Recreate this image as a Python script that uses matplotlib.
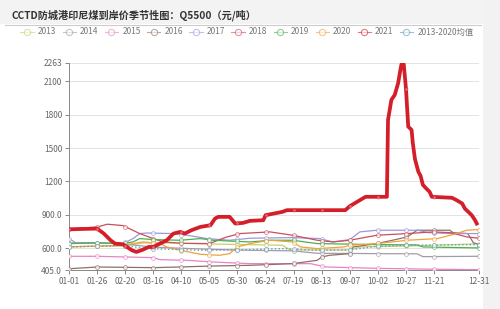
import numpy as np
import matplotlib
matplotlib.use("Agg")
import matplotlib.pyplot as plt
from matplotlib.lines import Line2D
from matplotlib.patches import Rectangle

plt.rcParams['font.family'] = ['Noto Sans CJK SC', 'DejaVu Sans']

# x axis is day-of-year index (leap-year calendar, 0 = 01-01, 365 = 12-31)
tick_days = [0, 25, 50, 75, 100, 125, 150, 175, 200, 225, 250, 275, 300, 325, 365]
tick_labels = ["01-01", "01-26", "02-20", "03-16", "04-10", "05-05", "05-30", "06-24",
               "07-19", "08-13", "09-07", "10-02", "10-27", "11-21", "12-31"]
y_ticks = [405, 600, 900, 1200, 1500, 1800, 2100, 2263]
y_labels = ["405.0", "600.0", "900.0", "1200", "1500", "1800", "2100", "2263"]

# series: (day, price)
d2013 = [0, 25, 48, 66, 87, 117, 161, 190, 197, 250, 259, 300, 365]
v2013 = [615, 618, 620, 648, 648, 640, 632, 627, 585, 585, 612, 620, 640]

d2014 = [0, 25, 48, 75, 100, 128, 161, 199, 221, 310, 315, 365]
v2014 = [648, 650, 640, 610, 600, 590, 582, 577, 555, 550, 525, 528]

d2015 = [0, 25, 75, 81, 105, 128, 161, 215, 229, 274, 324, 365]
v2015 = [528, 528, 516, 498, 492, 477, 462, 462, 432, 420, 412, 408]

d2016 = [0, 3, 25, 75, 98, 128, 161, 199, 221, 225, 232, 250, 253, 274, 288, 301, 310, 339, 342, 355, 360, 365]
v2016 = [410, 418, 432, 426, 432, 441, 447, 462, 492, 522, 537, 552, 612, 642, 672, 702, 762, 762, 740, 732, 650, 633]

d2017 = [0, 6, 48, 57, 63, 69, 93, 105, 123, 143, 161, 199, 223, 235, 250, 259, 274, 310, 320, 340, 365]
v2017 = [687, 650, 642, 687, 732, 737, 732, 717, 687, 672, 690, 696, 687, 657, 678, 747, 762, 762, 740, 732, 732]

d2018 = [0, 25, 34, 48, 63, 75, 84, 100, 125, 140, 152, 179, 199, 221, 235, 250, 274, 301, 324, 340, 354, 365]
v2018 = [775, 790, 816, 804, 732, 687, 657, 645, 642, 700, 732, 747, 717, 672, 657, 672, 717, 732, 747, 740, 702, 690]

d2019 = [0, 25, 48, 57, 63, 75, 99, 117, 128, 143, 161, 180, 199, 221, 274, 310, 315, 365]
v2019 = [642, 648, 642, 657, 687, 678, 672, 687, 672, 665, 657, 672, 672, 642, 633, 630, 612, 603]

d2020 = [0, 48, 66, 81, 87, 99, 117, 134, 143, 150, 161, 179, 199, 206, 221, 245, 250, 274, 301, 328, 345, 354, 365]
v2020 = [612, 627, 657, 642, 612, 582, 546, 537, 552, 612, 642, 672, 657, 612, 597, 612, 627, 642, 672, 687, 732, 762, 768]

d2021 = [0, 25, 31, 37, 41, 48, 56, 60, 66, 71, 75, 81, 87, 93, 99, 103, 109, 117, 126, 130, 133,
         143, 148, 155, 161, 173, 175, 190, 194, 246, 250, 259, 264, 283, 284, 287, 290, 293, 295,
         296, 298, 300, 302, 305, 306, 308, 311, 313, 315, 318, 321, 323, 341, 345, 350, 352.5,
         355.5, 358.5, 361.5, 363]
v2021 = [770, 777, 732, 672, 642, 636, 582, 567, 588, 612, 612, 642, 672, 732, 747, 732, 762, 792, 807, 867, 882,
         882, 822, 828, 846, 852, 897, 927, 942, 942, 978, 1032, 1062, 1062, 1752, 1932, 1977, 2082, 2200,
         2253, 2253, 2030, 1692, 1662, 1550, 1400, 1287, 1250, 1170, 1137, 1107, 1062, 1053, 1032, 1002, 955,
         927, 897, 852, 822]

d_avg = [0, 48, 70, 117, 161, 190, 221, 250, 274, 300, 365]
v_avg = [612, 625, 597, 582, 588, 597, 582, 585, 618, 627, 633]

series = [
    ("2013", d2013, v2013, "#c9cf6e", 0.9, "-"),
    ("2014", d2014, v2014, "#a39ca6", 0.9, "-"),
    ("2015", d2015, v2015, "#e883c6", 0.9, "-"),
    ("2016", d2016, v2016, "#8f7068", 0.9, "-"),
    ("2017", d2017, v2017, "#9f97dc", 0.9, "-"),
    ("2018", d2018, v2018, "#c9505a", 0.9, "-"),
    ("2019", d2019, v2019, "#4cb050", 0.9, "-"),
    ("2020", d2020, v2020, "#f0a23c", 0.9, "-"),
    ("2021", d2021, v2021, "#d41f2a", 2.7, "-"),
    ("2013-2020均值", d_avg, v_avg, "#5c9fbf", 1.0, ":"),
]

fig = plt.figure(figsize=(5, 3.09), dpi=100)
fig.patch.set_facecolor("white")
# grey title band and right strip
fig.add_artist(Rectangle((0, 1 - 24 / 309), 1, 24 / 309, transform=fig.transFigure,
                         facecolor="#f3f3f3", edgecolor="none", zorder=0))
fig.add_artist(Rectangle((483 / 500, 0), 17 / 500, 1, transform=fig.transFigure,
                         facecolor="#f2f2f2", edgecolor="none", zorder=0))
fig.add_artist(Line2D([0.01, 0.962], [1 - 24.5 / 309] * 2, transform=fig.transFigure,
                      color="#cccccc", lw=0.8))

fig.text(12 / 500, 1 - 15 / 309, "CCTD防城港印尼煤到岸价季节性图：Q5500（元/吨）",
         fontsize=7.3, fontweight="bold", color="#333333", va="center", ha="left")

ax = fig.add_axes([69 / 500, 39 / 309, 410 / 500, 207 / 309])
ax.set_facecolor("white")

handles = []
for name, d, v, c, lw, ls in series:
    thick = name == "2021"
    z = 5 if thick else 3
    ax.plot(d, v, color=c, lw=lw, ls=ls, zorder=z, solid_joinstyle="round")
    mk_days = [t for t in tick_days if d[0] <= t <= d[-1]]
    ax.plot(mk_days, np.interp(mk_days, d, v), ls="none", marker="o",
            ms=2.2 if thick else 2.8, mfc="#f3b5b8" if thick else "white", mec=c,
            mew=0.6, alpha=0.5 if thick else 0.7, zorder=z + 0.5)
    handles.append(Line2D([], [], color=c, lw=0.8, marker="o", ms=4.5,
                          mfc="white", mec=c, mew=0.8, alpha=0.6))

ax.set_xlim(0, 365)
ax.set_ylim(405, 2263)
ax.set_xticks(tick_days)
ax.set_xticklabels(tick_labels)
ax.set_yticks(y_ticks)
ax.set_yticklabels(y_labels)
ax.yaxis.grid(True, color="#e3e3e3", lw=0.7)
ax.set_axisbelow(True)
for s in ["top", "right"]:
    ax.spines[s].set_visible(False)
for s in ["left", "bottom"]:
    ax.spines[s].set_color("#888888")
    ax.spines[s].set_linewidth(0.7)
ax.tick_params(axis="both", colors="#888888", length=3, width=0.7, labelsize=6,
               labelcolor="#666666", pad=2)

fig.legend(handles, [s[0] for s in series], loc="center", bbox_to_anchor=(247 / 500, 1 - 32 / 309),
           ncol=10, frameon=False, fontsize=6, handlelength=1.6, handletextpad=0.5,
           columnspacing=0.75, labelcolor="#777777")

fig.savefig("out.png", dpi=100)
